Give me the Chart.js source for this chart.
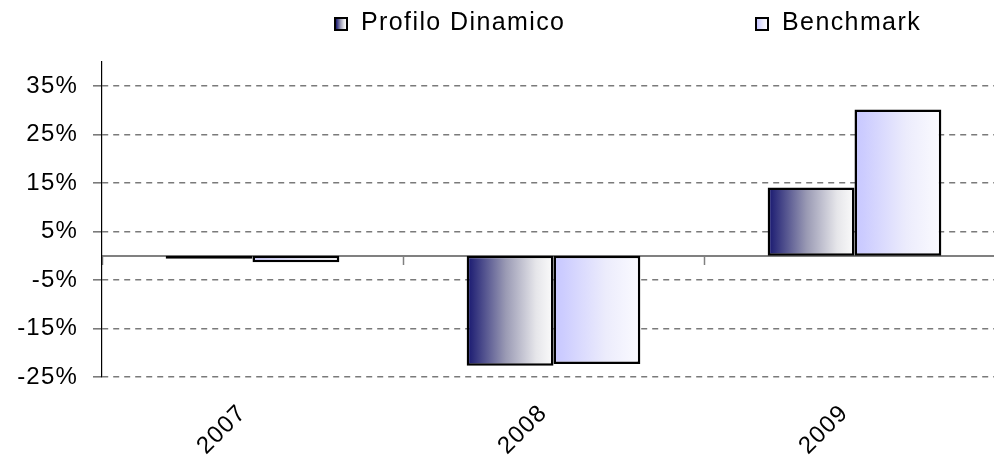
<!DOCTYPE html>
<html>
<head>
<meta charset="utf-8">
<script src="https://cdn.jsdelivr.net/npm/chart.js@4/dist/chart.umd.min.js"></script>
<style>
  html, body { margin: 0; padding: 0; background: #fff; overflow: hidden; }
  #wrap { position: relative; width: 1006px; height: 462px; }
  .lg-box { position: absolute; top: 17px; width: 14px; height: 14px; box-sizing: border-box; border: 2px solid #000; }
  .lg-text { position: absolute; top: 9px; font: 25px "Liberation Sans", Arial, sans-serif; line-height: 25px; letter-spacing: 1.4px; color: #000; white-space: nowrap; }
</style>
</head>
<body>
<div id="wrap">
  <canvas id="chart"></canvas>
  <span class="lg-box" style="left:334px; background: linear-gradient(to right, #16166f, #9a9ab4 45%, #e6e6ea 80%, #fbfbfb);"></span>
  <span class="lg-text" style="left:361px;">Profilo Dinamico</span>
  <span class="lg-box" style="left:755px; background: linear-gradient(to right, #c8c8ff, #ccccff 10%, #ececfc 60%, #fbfbff);"></span>
  <span class="lg-text" style="left:782px;">Benchmark</span>
</div>
<script>
// data
const years = ['2007', '2008', '2009'];
const profiloDinamico = [-0.6, -22.7, 14.1];
const benchmark = [-1.3, -22.3, 30.2];
const yTicks = [-25, -15, -5, 5, 15, 25, 35];

const CAT_PCT = 0.577;

// horizontal gradient across each bar
const gradStops = [
  [[0, '#16166f'], [0.45, '#9a9ab4'], [0.8, '#e6e6ea'], [1, '#fbfbfb']],
  [[0, '#c8c8ff'], [0.1, '#ccccff'], [0.6, '#ececfc'], [1, '#fbfbff']]
];

function barGradient(c) {
  const chart = c.chart;
  const xs = chart.scales.x;
  const stops = gradStops[c.datasetIndex];
  if (!xs || !chart.chartArea) return stops[0][1];
  const center = xs.getPixelForValue(c.dataIndex);
  const half = (xs.width / years.length) * CAT_PCT / 2;
  const left = c.datasetIndex === 0 ? center - half : center;
  const g = chart.ctx.createLinearGradient(left, 0, left + half, 0);
  stops.forEach(s => g.addColorStop(s[0], s[1]));
  return g;
}

// widen canvas text a little, like the original
const spacing = {
  id: 'spacing',
  beforeLayout(chart) { chart.ctx.letterSpacing = '1.2px'; },
  beforeDraw(chart) { chart.ctx.letterSpacing = '1.2px'; }
};

const font = { family: '"Liberation Sans", Arial, sans-serif', size: 24 };

new Chart(document.getElementById('chart'), {
  type: 'bar',
  data: {
    labels: years,
    datasets: [{
      label: 'Profilo Dinamico',
      data: profiloDinamico,
      backgroundColor: barGradient,
      borderColor: '#000',
      borderWidth: 2.5,
      borderSkipped: false
    }, {
      label: 'Benchmark',
      data: benchmark,
      backgroundColor: barGradient,
      borderColor: '#000',
      borderWidth: 2.5,
      borderSkipped: false
    }]
  },
  options: {
    responsive: true,
    maintainAspectRatio: false,
    animation: false,
    layout: { padding: { top: 62, left: 0, right: 1, bottom: 0 } },
    datasets: { bar: { categoryPercentage: CAT_PCT, barPercentage: 1 } },
    plugins: {
      legend: { display: false },
      tooltip: { enabled: false }
    },
    scales: {
      x: {
        offset: true,
        grid: { display: false },
        border: { display: false },
        ticks: { font: font, color: '#000', minRotation: 45, maxRotation: 45, padding: 14, labelOffset: -10 },
        afterFit: function(scale) { scale.height = 85; }
      },
      x2: {
        type: 'category',
        position: { y: 0 },
        offset: true,
        grid: { offset: true, drawOnChartArea: false, drawTicks: true, tickLength: 8, tickColor: '#808080', tickWidth: 1.5 },
        border: { display: true, color: '#808080', width: 2 },
        ticks: { display: false }
      },
      y: {
        min: -25,
        max: 40,
        afterBuildTicks: function(scale) { scale.ticks = yTicks.map(v => ({ value: v })); },
        grid: { color: '#7a7a7a', lineWidth: 1.6, tickLength: 9, tickColor: '#7a7a7a' },
        border: { display: true, color: '#000', width: 1.2, dash: [6, 5] },
        ticks: {
          font: font,
          color: '#000',
          padding: 15,
          callback: function(value) { return value + '%'; }
        },
        afterFit: function(scale) { scale.width = 102; }
      }
    }
  },
  plugins: [spacing]
});
</script>
</body>
</html>
